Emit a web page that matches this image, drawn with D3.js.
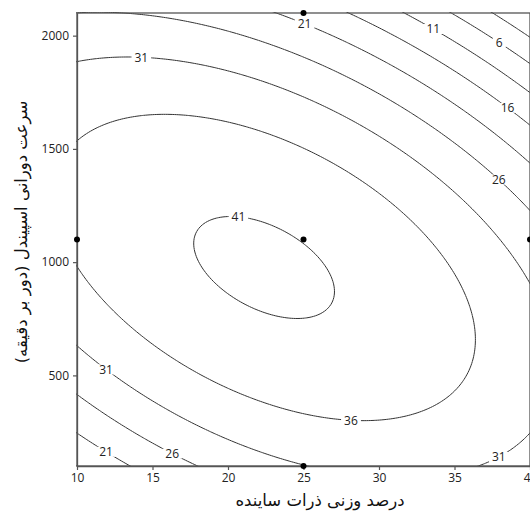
<!DOCTYPE html>
<html>
<head>
<meta charset="utf-8">
<script src="https://cdn.jsdelivr.net/npm/d3@7"></script>
<style>
  html, body { margin: 0; padding: 0; background: #fff; }
  svg { display: block; }
</style>
</head>
<body>
<svg id="chart" width="530" height="514"></svg>
<script>
// ---- Factor ranges and axis ticks ----
const abrasiveRange = [10, 40];      // abrasive particle content, wt%
const spindleRange = [100, 2100];    // spindle speed, rpm
const xTickValues = [10, 15, 20, 25, 30, 35, 40];
const yTickValues = [500, 1000, 1500, 2000];

// ---- Second-order response model (coded units) ----
// A = (wt% - 25) / 15,  B = (rpm - 1100) / 1000
const modelTerms = ["const", "A", "B", "A^2", "B^2", "AB"];
const modelCoefs = [40.9, -4.22, -5.78, -8.3, -15.8, -10.78];

// ---- Contour levels ----
const contourLevels = [1, 6, 11, 16, 21, 26, 31, 36, 41];

// ---- Design points ----
const designX = [10, 25, 40, 25, 25];
const designY = [1100, 1100, 1100, 100, 2100];

// ---- Titles ----
const xTitle = "درصد وزنی ذرات ساینده";
const yTitle = "سرعت دورانی اسپیندل (دور بر دقیقه)";

function response(wt, rpm) {
  const A = (wt - 25) / 15, B = (rpm - 1100) / 1000;
  const basis = { "const": 1, "A": A, "B": B, "A^2": A * A, "B^2": B * B, "AB": A * B };
  return d3.sum(modelTerms, (t, k) => basis[t] * modelCoefs[k]);
}

const svg = d3.select("#chart");
const plot = { left: 77, top: 13, right: 530, bottom: 466 };

const x = d3.scaleLinear().domain(abrasiveRange).range([plot.left, plot.right]);
const y = d3.scaleLinear().domain(spindleRange).range([plot.bottom, plot.top]);

svg.append("defs").append("clipPath").attr("id", "plotClip")
  .append("rect")
  .attr("x", plot.left - 1).attr("y", plot.top - 1)
  .attr("width", plot.right - plot.left + 2)
  .attr("height", plot.bottom - plot.top + 2);

// ---- Sample the surface on a grid that runs a little past the plot ----
const nx = 220, ny = 220;
const gx = [9, 41], gy = [0, 2200];
const sx = (gx[1] - gx[0]) / (nx - 1), sy = (gy[1] - gy[0]) / (ny - 1);
const grid = new Array(nx * ny);
for (let j = 0; j < ny; j++) {
  for (let i = 0; i < nx; i++) {
    grid[j * nx + i] = response(gx[0] + i * sx, gy[0] + j * sy);
  }
}
const bands = d3.contours().size([nx, ny]).thresholds(contourLevels)(grid);
const toPx = p => [x(gx[0] + (p[0] - 0.5) * sx), y(gy[0] + (p[1] - 0.5) * sy)];

const ringsByLevel = new Map();
bands.forEach(b => {
  const rings = [];
  b.coordinates.forEach(poly => poly.forEach(ring => rings.push(ring.map(toPx))));
  ringsByLevel.set(b.value, rings);
});

const lineGen = d3.line();
const gLines = svg.append("g").attr("clip-path", "url(#plotClip)");
contourLevels.forEach(level => {
  ringsByLevel.get(level).forEach(ring => {
    gLines.append("path")
      .attr("d", lineGen(ring) + "Z")
      .attr("fill", "none")
      .attr("stroke", "#333")
      .attr("stroke-width", 1);
  });
});

// ---- Frame ----
svg.append("rect")
  .attr("x", plot.left).attr("y", plot.top)
  .attr("width", plot.right - plot.left).attr("height", plot.bottom - plot.top)
  .attr("fill", "none").attr("stroke", "#555").attr("stroke-width", 1.3);

// ---- Contour labels, placed on the nearest point of the line ----
const labelSpots = [
  [41, 20.7, 1190], [36, 28.1, 303],
  [31, 14.2, 1906], [31, 12.0, 533], [31, 37.9, 140],
  [26, 16.4, 162], [26, 37.9, 1363],
  [21, 25.0, 2051], [21, 12.0, 171],
  [16, 38.5, 1676], [11, 33.6, 2025], [6, 37.9, 1963]
];
const gLabels = svg.append("g");
labelSpots.forEach(([level, lx, ly]) => {
  const ax = x(lx), ay = y(ly);
  let best = null, bestD = Infinity;
  ringsByLevel.get(level).forEach(ring => ring.forEach(p => {
    if (p[0] < plot.left || p[0] > plot.right || p[1] < plot.top || p[1] > plot.bottom) return;
    const d = (p[0] - ax) ** 2 + (p[1] - ay) ** 2;
    if (d < bestD) { bestD = d; best = p; }
  }));
  if (!best) return;
  const g = gLabels.append("g").attr("transform", `translate(${best[0]},${best[1]})`);
  const rect = g.append("rect").attr("fill", "#fff");
  const t = g.append("text")
    .attr("text-anchor", "middle").attr("dy", "0.36em")
    .attr("font-family", "'Open Sans', 'Noto Sans', sans-serif")
    .attr("font-size", 12).attr("fill", "#222")
    .text(level);
  const bb = t.node().getBBox();
  rect.attr("x", bb.x - 3).attr("y", -5).attr("width", bb.width + 6).attr("height", 10);
});

// ---- Axes ----
const axisFont = "'Open Sans', 'Noto Sans', sans-serif";
const gx0 = svg.append("g").attr("transform", `translate(0,${plot.bottom})`)
  .call(d3.axisBottom(x).tickValues(xTickValues).tickFormat(d3.format("d"))
    .tickSize(4).tickSizeOuter(0).tickPadding(3));
const gy0 = svg.append("g").attr("transform", `translate(${plot.left},0)`)
  .call(d3.axisLeft(y).tickValues(yTickValues).tickFormat(d3.format("d"))
    .tickSize(4).tickSizeOuter(0).tickPadding(4));
[gx0, gy0].forEach(g => {
  g.select(".domain").attr("stroke", "#555").attr("stroke-width", 1.3);
  g.selectAll(".tick line").attr("stroke", "#555").attr("stroke-width", 1.2);
  g.selectAll(".tick text").attr("font-family", axisFont).attr("font-size", 12).attr("fill", "#222");
});

// ---- Design points ----
svg.append("g").selectAll("circle")
  .data(designX.map((d, i) => [d, designY[i]]))
  .join("circle")
  .attr("cx", d => x(d[0])).attr("cy", d => y(d[1]))
  .attr("r", 3).attr("fill", "#000");

// ---- Axis titles ----
svg.append("text")
  .attr("x", 320).attr("y", 506)
  .attr("text-anchor", "middle")
  .attr("direction", "rtl")
  .attr("font-family", "'DejaVu Sans', sans-serif")
  .attr("font-size", 16.5).attr("fill", "#111")
  .text(xTitle);

svg.append("text")
  .attr("transform", "translate(27,232) rotate(-90)")
  .attr("text-anchor", "middle")
  .attr("direction", "rtl")
  .attr("font-family", "'DejaVu Sans', sans-serif")
  .attr("font-size", 16.5).attr("fill", "#111")
  .text(yTitle);
</script>
</body>
</html>
